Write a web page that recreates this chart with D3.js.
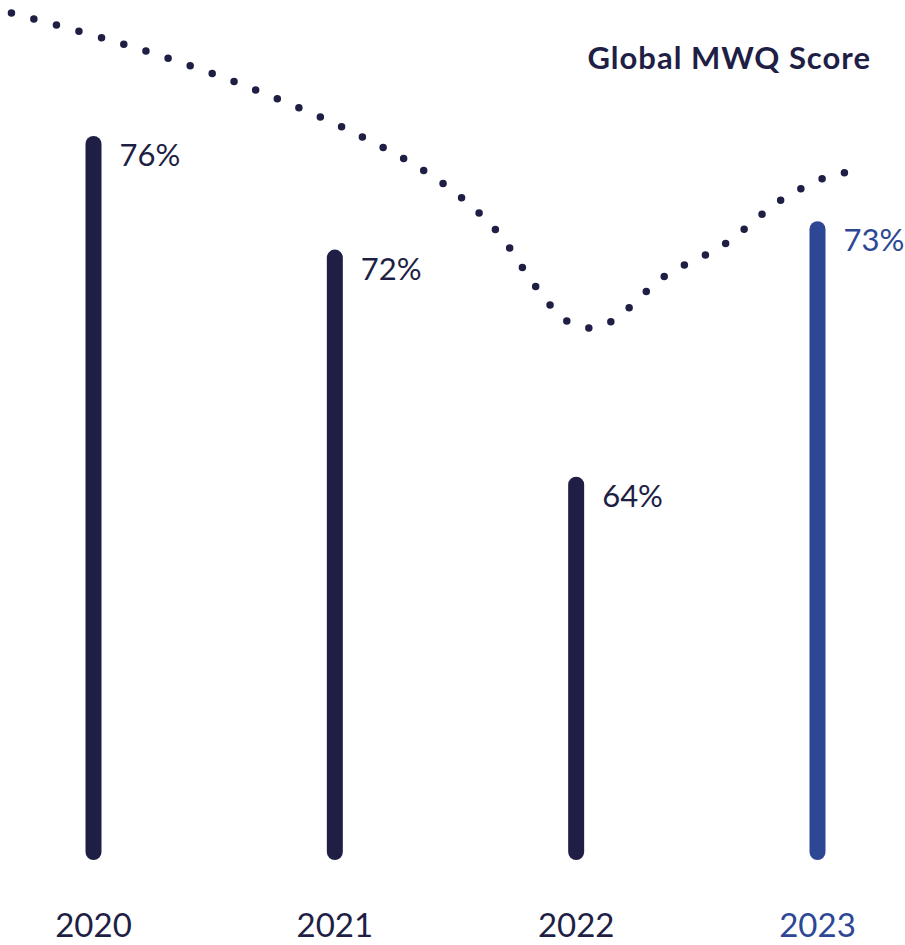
<!DOCTYPE html>
<html>
<head>
<meta charset="utf-8">
<script src="https://cdn.jsdelivr.net/npm/d3@7"></script>
<style>
  body { margin: 0; background: #fff; }
  text { font-family: Lato, "Open Sans", sans-serif; }
</style>
</head>
<body>
<div id="chart"></div>
<script>
// bar data
var years = [2020, 2021, 2022, 2023];
var scores = [76, 72, 64, 73];
var labels = ["76%", "72%", "64%", "73%"];

// dotted trend (year position, score units)
var trendYears = [2019.66, 2020.15, 2020.63, 2021.09, 2021.44, 2021.67, 2021.83, 2021.96,
                  2022.06, 2022.15, 2022.37, 2022.61, 2022.85, 2023.05, 2023.15];
var trendScores = [80.33, 79.17, 77.76, 76.07, 74.38, 72.66, 70.72, 69.49,
                   69.24, 69.49, 71.08, 72.16, 73.75, 74.59, 74.74];

var title = "Global MWQ Score";

var w = 905, h = 945;
var navy = "#1f1f45", blue = "#2d4795";

var svg = d3.select("#chart")
            .append("svg")
            .attr("width", w)
            .attr("height", h);

/***Scales***/
var xScale = d3.scaleLinear()
               .domain([2020, 2023])
               .range([93.5, 817.5]);
var yScale = d3.scaleLinear()
               .domain([50.5, 76])
               .range([860, 136]);

var colorOf = function(i) { return i === years.length - 1 ? blue : navy; };

/***Dotted trend***/
var trendLine = d3.line()
                  .curve(d3.curveCatmullRom.alpha(0.5))
                  .x(function(d) { return xScale(d[0]); })
                  .y(function(d) { return yScale(d[1]); });

svg.append("path")
   .datum(d3.zip(trendYears, trendScores))
   .attr("d", trendLine)
   .attr("fill", "none")
   .attr("stroke", navy)
   .attr("stroke-width", 7.5)
   .attr("stroke-linecap", "round")
   .attr("stroke-dasharray", "0 23.3");

/***Bars as rounded lines***/
var bw = 16;
svg.selectAll("line.bar")
   .data(scores)
   .enter()
   .append("line")
   .attr("class", "bar")
   .attr("x1", function(d, i) { return xScale(years[i]); })
   .attr("x2", function(d, i) { return xScale(years[i]); })
   .attr("y1", function(d) { return yScale(d) + bw / 2; })
   .attr("y2", yScale(50.5) - bw / 2)
   .attr("stroke", function(d, i) { return colorOf(i); })
   .attr("stroke-width", bw)
   .attr("stroke-linecap", "round");

/***Value labels***/
svg.selectAll("text.val")
   .data(scores)
   .enter()
   .append("text")
   .attr("class", "val")
   .attr("x", function(d, i) { return xScale(years[i]) + 26; })
   .attr("y", function(d) { return yScale(d) + 30; })
   .attr("font-size", 31)
   .attr("fill", function(d, i) { return colorOf(i); })
   .text(function(d, i) { return labels[i]; });

/***Year labels***/
svg.selectAll("text.year")
   .data(years)
   .enter()
   .append("text")
   .attr("class", "year")
   .attr("x", function(d) { return xScale(d); })
   .attr("y", 937)
   .attr("text-anchor", "middle")
   .attr("font-size", 33)
   .attr("fill", function(d, i) { return colorOf(i); })
   .text(function(d) { return d; });

/***Title***/
svg.append("text")
   .attr("x", 871)
   .attr("y", 69)
   .attr("text-anchor", "end")
   .attr("font-size", 31)
   .attr("font-weight", 700)
   .attr("letter-spacing", 1)
   .attr("fill", navy)
   .text(title);
</script>
</body>
</html>
